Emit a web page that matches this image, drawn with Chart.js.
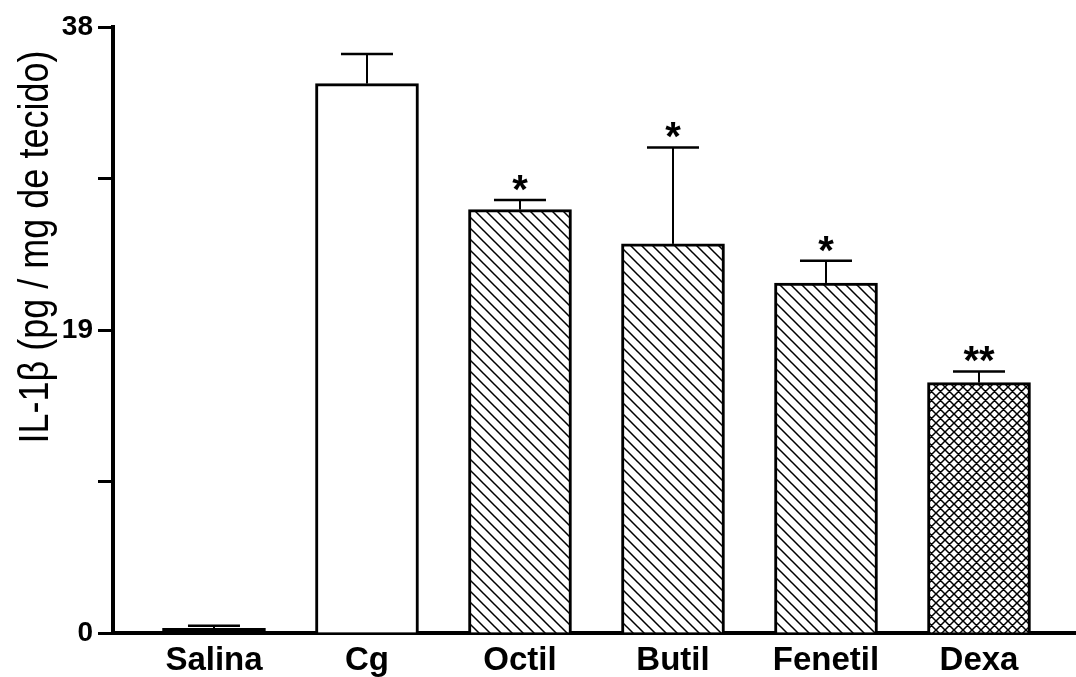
<!DOCTYPE html>
<html>
<head>
<meta charset="utf-8">
<script src="https://cdn.jsdelivr.net/npm/chart.js@4/dist/chart.umd.min.js"></script>
<style>
  html, body { margin: 0; padding: 0; background: #fff; }
  #wrap { width: 1076px; height: 677px; position: relative; }
</style>
</head>
<body>
<div id="wrap"><canvas id="chart"></canvas></div>
<script>
// values
const labels = ['Salina', 'Cg', 'Octil', 'Butil', 'Fenetil', 'Dexa'];
const means = [0.3, 34.45, 26.55, 24.4, 21.95, 15.7];
const errors = [0.15, 1.85, 0.6, 6.05, 1.4, 0.7];
const marks = ['', '', '*', '*', '*', '**'];
const yLabels = [0, 19, 38];
const yTitle = 'IL-1\u03b2 (pg / mg de tecido)';

// hatch fills
function makeHatch(size, cross) {
    const c = document.createElement('canvas');
    c.width = size;
    c.height = size;
    const g = c.getContext('2d');
    g.fillStyle = '#fff';
    g.fillRect(0, 0, size, size);
    g.strokeStyle = '#000';
    g.lineWidth = 1.5;
    g.beginPath();
    g.moveTo(-1, -1); g.lineTo(size + 1, size + 1);
    g.moveTo(size - 1, -1); g.lineTo(size + 1, 1);
    g.moveTo(-1, size - 1); g.lineTo(1, size + 1);
    if (cross) {
        g.moveTo(size + 1, -1); g.lineTo(-1, size + 1);
        g.moveTo(1, -1); g.lineTo(-1, 1);
        g.moveTo(size + 1, size - 1); g.lineTo(size - 1, size + 1);
    }
    g.stroke();
    return g.createPattern(c, 'repeat');
}

const diag = makeHatch(11, false);
const cross = makeHatch(9, true);
const fills = ['#000', '#fff', diag, diag, diag, cross];

// error bars + asterisks + rotated axis title
const errorBars = {
    id: 'errorBars',
    afterDatasetsDraw(chart) {
        const ctx = chart.ctx;
        const xs = chart.scales.x;
        const ys = chart.scales.y;
        ctx.save();
        ctx.strokeStyle = '#000';
        ctx.fillStyle = '#000';
        means.forEach((m, i) => {
            const x = xs.getPixelForValue(i);
            const yBar = ys.getPixelForValue(m);
            const yTop = ys.getPixelForValue(m + errors[i]);
            ctx.lineWidth = 2;
            ctx.beginPath();
            ctx.moveTo(x, yBar);
            ctx.lineTo(x, yTop);
            ctx.stroke();
            ctx.lineWidth = 2.5;
            ctx.beginPath();
            ctx.moveTo(x - 26, yTop);
            ctx.lineTo(x + 26, yTop);
            ctx.stroke();
            if (marks[i]) {
                ctx.font = 'bold 40px "Liberation Sans", Arial, sans-serif';
                ctx.textAlign = 'center';
                ctx.textBaseline = 'alphabetic';
                const mt = ctx.measureText(marks[i]);
                ctx.fillText(marks[i], x, yTop - 9 - mt.actualBoundingBoxDescent);
            }
        });
        ctx.restore();
    },
    afterDraw(chart) {
        const ctx = chart.ctx;
        ctx.save();
        ctx.translate(48, 247);
        ctx.rotate(-Math.PI / 2);
        ctx.scale(1, 1.2);
        ctx.font = '36px "Liberation Sans", Arial, sans-serif';
        ctx.fillStyle = '#000';
        ctx.textAlign = 'center';
        ctx.textBaseline = 'alphabetic';
        ctx.fillText(yTitle, 0, 0);
        ctx.restore();
    }
};

new Chart(document.getElementById('chart'), {
    type: 'bar',
    data: {
        datasets: [{
            data: means.map((v, i) => ({ x: i, y: v })),
            backgroundColor: fills,
            borderColor: '#000',
            borderWidth: 3,
            barThickness: 103
        }]
    },
    options: {
        responsive: true,
        maintainAspectRatio: false,
        animation: false,
        layout: { padding: { top: 27, right: 0, left: 0, bottom: 0 } },
        plugins: { legend: { display: false }, tooltip: { enabled: false } },
        scales: {
            x: {
                type: 'linear',
                offset: false,
                min: -0.66,
                max: 5.634,
                grid: { display: false, offset: false },
                border: { display: true, color: '#000', width: 4 },
                ticks: {
                    includeBounds: false,
                    autoSkip: false,
                    maxRotation: 0,
                    padding: 0,
                    color: '#000',
                    font: { family: '"Liberation Sans", Arial, sans-serif', size: 33, weight: 'bold' },
                    callback: v => (Number.isInteger(v) && labels[v]) ? labels[v] : ''
                },
                afterBuildTicks(scale) { scale.ticks = labels.map((_, i) => ({ value: i })); },
                afterFit(scale) { scale.height = 44; }
            },
            y: {
                min: 0,
                max: 38,
                grid: { display: true, drawOnChartArea: false, drawTicks: true, tickLength: 15, tickWidth: 3, tickColor: '#000' },
                border: { display: true, color: '#000', width: 4 },
                ticks: {
                    stepSize: 9.5,
                    padding: 5,
                    color: '#000',
                    font: { family: '"Liberation Sans", Arial, sans-serif', size: 28, weight: 'bold' },
                    callback: v => yLabels.includes(v) ? v : ''
                },
                afterFit(scale) { scale.width = 113; }
            }
        }
    },
    plugins: [errorBars]
});
</script>
</body>
</html>
